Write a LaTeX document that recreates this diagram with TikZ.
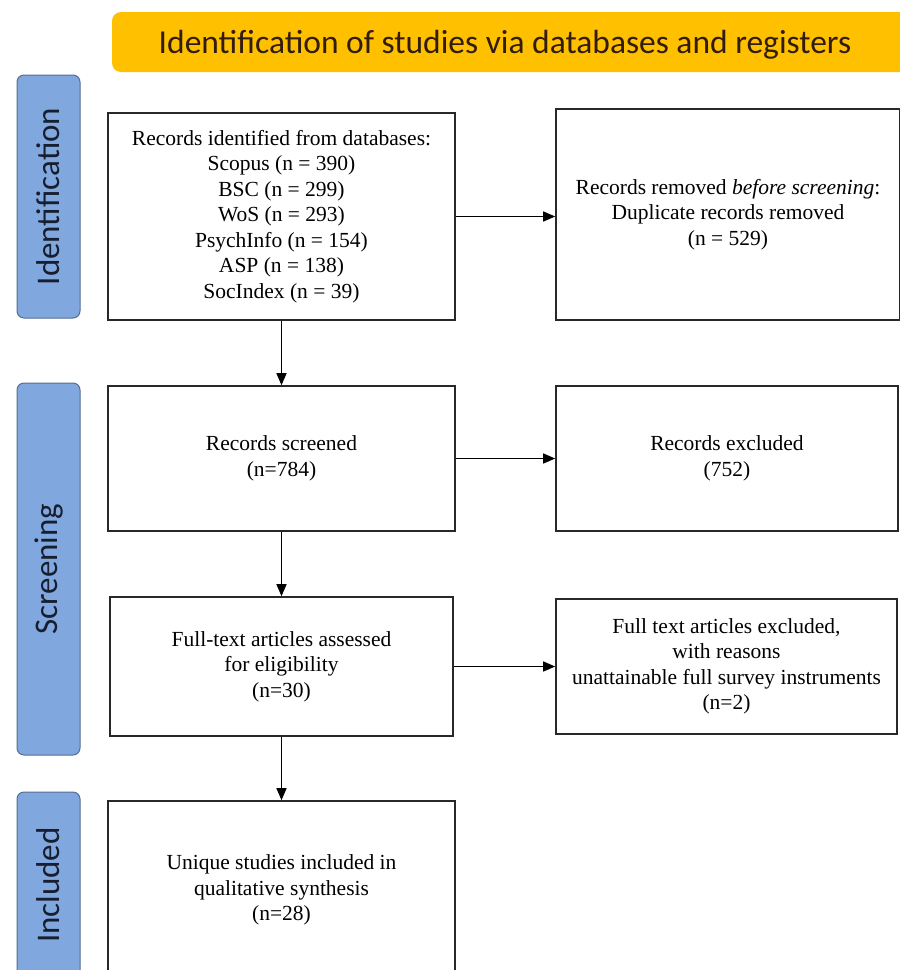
\documentclass[tikz,border=0pt]{standalone}
\usepackage{fontspec}
\setmainfont{Liberation Serif}
\newfontfamily\labelfont{Carlito}
\usetikzlibrary{arrows.meta}
\definecolor{bannerorange}{RGB}{255,192,0}
\definecolor{bannertext}{RGB}{50,28,12}
\definecolor{phasefill}{RGB}{128,167,222}
\definecolor{phasedraw}{RGB}{85,110,150}
\definecolor{phasetext}{RGB}{22,30,48}
\definecolor{boxline}{RGB}{40,40,40}
\tikzset{
  flowbox/.style={draw=boxline, line width=1.6pt, fill=white, inner sep=0pt, align=center,
    font=\fontsize{21.5}{25.5}\selectfont},
  phase/.style={draw=phasedraw, line width=1pt, fill=phasefill, rounded corners=7pt, inner sep=0pt},
  phasetxt/.style={font=\labelfont\fontsize{33}{33}\selectfont, text=phasetext, rotate=90, inner sep=0pt},
  banner/.style={fill=bannerorange, rounded corners=9pt, inner sep=0pt},
  flowarrow/.style={draw=black, line width=1.4pt, -{Triangle[length=12pt,width=10pt]}},
}
\begin{document}
\begin{tikzpicture}[x=1pt,y=-1pt]
\useasboundingbox (0,0) rectangle (900,970);
\clip (0,0) rectangle (900,970);
\fill[white] (0,0) rectangle (900,970);

% banner
\node[banner, minimum width=808pt, minimum height=60pt] (bannerbox) at (516,42) {};
\node[font=\labelfont\fontsize{33.5}{33.5}\selectfont, text=bannertext, inner sep=0pt] (bannertitle) at (505,45)
  {Identification of studies via databases and registers};

% phase labels
\node[phase, minimum width=63pt, minimum height=243pt] (phid) at (48.5,196.5) {};
\node[phasetxt] (phidt) at (phid.center) {Identification};
\node[phase, minimum width=63pt, minimum height=372pt] (phsc) at (48.5,569) {};
\node[phasetxt] (phsct) at (phsc.center) {Screening};
\node[phase, minimum width=63pt, minimum height=186pt] (phin) at (48.5,885) {};
\node[phasetxt] (phint) at (phin.center) {Included};

% boxes
\node[flowbox, minimum width=347pt, minimum height=207pt] (b1) at (281.5,216.5)
  {Records identified from databases:\\Scopus (n = 390)\\BSC (n = 299)\\WoS (n = 293)\\PsychInfo (n = 154)\\ASP (n = 138)\\SocIndex (n = 39)};
\node[flowbox, minimum width=344pt, minimum height=211pt] (b2) at (728,214.5)
  {Records removed \textit{before screening}:\\Duplicate records removed\\(n = 529)};
\node[flowbox, minimum width=347pt, minimum height=145pt] (b3) at (281.5,458.5)
  {Records screened\\(n=784)};
\node[flowbox, minimum width=342pt, minimum height=145pt] (b4) at (727,458.5)
  {Records excluded\\(752)};
\node[flowbox, minimum width=343pt, minimum height=139pt] (b5) at (281.5,666.5)
  {Full-text articles assessed\\for eligibility\\(n=30)};
\node[flowbox, minimum width=341pt, minimum height=135pt] (b6) at (726.5,666.5)
  {Full text articles excluded,\\with reasons\\unattainable full survey instruments\\(n=2)};
\node[flowbox, minimum width=347pt, minimum height=178pt] (b7) at (281.5,890)
  {Unique studies included in\\qualitative synthesis\\(n=28)};

% connectors
\draw[flowarrow] (b1.east) -- (b1.east -| b2.west);
\draw[flowarrow] (b1.south) -- (b3.north);
\draw[flowarrow] (b3.east) -- (b3.east -| b4.west);
\draw[flowarrow] (b3.south) -- (b5.north);
\draw[flowarrow] (b5.east) -- (b5.east -| b6.west);
\draw[flowarrow] (b5.south) -- (b7.north);
\end{tikzpicture}
\end{document}
